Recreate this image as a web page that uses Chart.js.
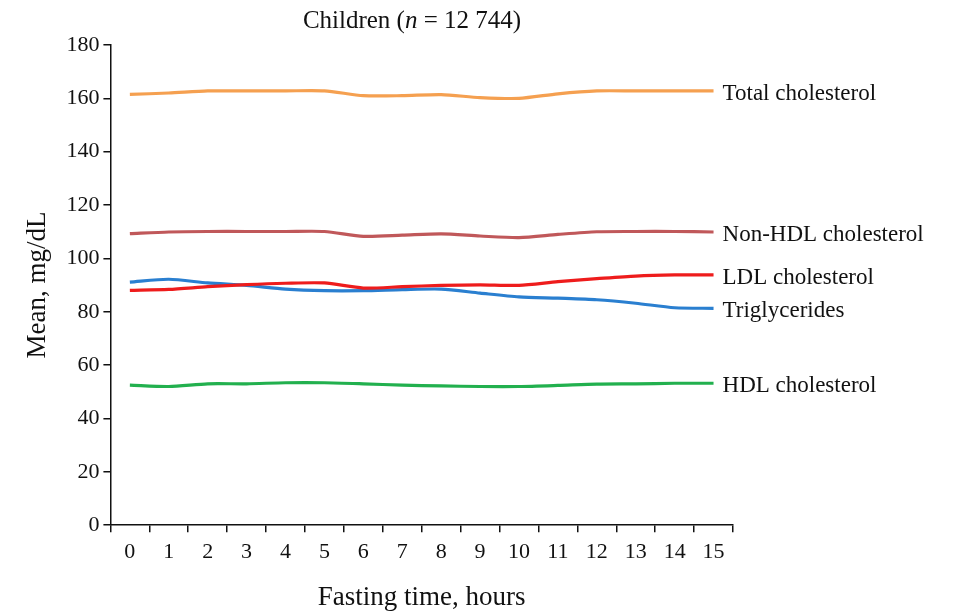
<!DOCTYPE html>
<html>
<head>
<meta charset="utf-8">
<script src="https://cdn.jsdelivr.net/npm/chart.js@4"></script>
<style>
  html, body { margin: 0; padding: 0; background: #fff; }
  #wrap { width: 960px; height: 614px; }
</style>
</head>
<body>
<div id="wrap"><canvas id="lipids" width="960" height="614"></canvas></div>
<script>
// fasting hours and mean lipid levels (mg/dL)
const hours = ['0', '1', '2', '3', '4', '5', '6', '7', '8', '9', '10', '11', '12', '13', '14', '15'];
const totalChol = [161.5, 162, 162.8, 162.8, 162.8, 162.8, 161, 161, 161.4, 160.3, 160, 161.7, 162.8, 162.8, 162.8, 162.8];
const nonHdlChol = [109.3, 109.9, 110.1, 110.1, 110.1, 110.1, 108.3, 108.7, 109.2, 108.4, 107.8, 109, 110, 110.1, 110.1, 109.9];
const ldlChol = [88, 88.4, 89.4, 90.2, 90.7, 90.8, 88.9, 89.4, 89.9, 90.1, 89.9, 91.3, 92.4, 93.4, 93.8, 93.8];
const triglycerides = [91.1, 92.2, 90.8, 89.9, 88.5, 87.9, 87.9, 88.3, 88.5, 87, 85.6, 85.1, 84.5, 83.2, 81.5, 81.3];
const hdlChol = [52.5, 52, 53, 53, 53.4, 53.4, 53, 52.5, 52.2, 52, 52, 52.4, 52.9, 53, 53.2, 53.2];
const seriesNames = ['Total cholesterol', 'Non-HDL cholesterol', 'LDL cholesterol', 'Triglycerides', 'HDL cholesterol'];
const yTicks = [0, 20, 40, 60, 80, 100, 120, 140, 160, 180];

const serif = '"Liberation Serif", "DejaVu Serif", serif';
const ink = '#111';
Chart.defaults.font.family = serif;
Chart.defaults.color = ink;

function line(label, data, color) {
  return {
    label: label,
    data: data,
    borderColor: color,
    backgroundColor: color,
    borderWidth: 3.2,
    pointRadius: 0,
    tension: 0.25,
    fill: false
  };
}

// writes the series name right after the last point of each line
const endLabels = {
  id: 'endLabels',
  afterDatasetsDraw(chart) {
    const ctx = chart.ctx;
    ctx.save();
    ctx.font = '23px ' + serif;
    ctx.fillStyle = ink;
    ctx.textAlign = 'left';
    ctx.textBaseline = 'middle';
    chart.data.datasets.forEach((ds, i) => {
      const pts = chart.getDatasetMeta(i).data;
      const last = pts[pts.length - 1];
      ctx.fillText(ds.label, last.x + 9, last.y + 3);
    });
    ctx.restore();
  }
};

// title with italic n
const topTitle = {
  id: 'topTitle',
  afterDraw(chart) {
    const ctx = chart.ctx;
    const parts = [
      ['Children (', 'normal'],
      ['n', 'italic'],
      [' = 12 744)', 'normal']
    ];
    ctx.save();
    ctx.fillStyle = ink;
    ctx.textBaseline = 'middle';
    let total = 0;
    parts.forEach(p => {
      ctx.font = p[1] + ' 25px ' + serif;
      total += ctx.measureText(p[0]).width;
    });
    let x = 412 - total / 2;
    parts.forEach(p => {
      ctx.font = p[1] + ' 25px ' + serif;
      ctx.fillText(p[0], x, 21);
      x += ctx.measureText(p[0]).width;
    });
    ctx.restore();
  }
};

const ctx = document.getElementById('lipids').getContext('2d');
new Chart(ctx, {
  type: 'line',
  data: {
    labels: hours,
    datasets: [
      line(seriesNames[0], totalChol, '#f5a050'),
      line(seriesNames[1], nonHdlChol, '#c0585a'),
      line(seriesNames[2], ldlChol, '#ee1c1c'),
      line(seriesNames[3], triglycerides, '#2a7fd0'),
      line(seriesNames[4], hdlChol, '#22b04e')
    ]
  },
  options: {
    responsive: false,
    animation: false,
    layout: {
      padding: { top: 45, right: 227, bottom: 0, left: 22 }
    },
    plugins: {
      legend: { display: false },
      tooltip: { enabled: false },
      title: { display: false }
    },
    scales: {
      x: {
        type: 'category',
        offset: true,
        grid: {
          offset: true,
          drawOnChartArea: false,
          drawTicks: true,
          tickLength: 7,
          color: ink,
          lineWidth: 1.5
        },
        border: { display: true, color: ink, width: 1.5 },
        ticks: {
          font: { size: 22 },
          color: ink,
          padding: 7,
          maxRotation: 0
        },
        title: {
          display: true,
          text: 'Fasting time, hours',
          font: { size: 27 },
          color: ink,
          padding: { top: 9, bottom: 0 }
        }
      },
      y: {
        min: 0,
        max: 180,
        afterBuildTicks(axis) {
          axis.ticks = yTicks.map(v => ({ value: v }));
        },
        grid: {
          drawOnChartArea: false,
          drawTicks: true,
          tickLength: 7,
          color: ink,
          lineWidth: 1.5
        },
        border: { display: true, color: ink, width: 1.5 },
        ticks: {
          font: { size: 22 },
          color: ink,
          padding: 4
        },
        title: {
          display: true,
          text: 'Mean, mg/dL',
          font: { size: 27 },
          color: ink,
          padding: { top: 0, bottom: 8 }
        }
      }
    }
  },
  plugins: [endLabels, topTitle]
});
</script>
</body>
</html>
